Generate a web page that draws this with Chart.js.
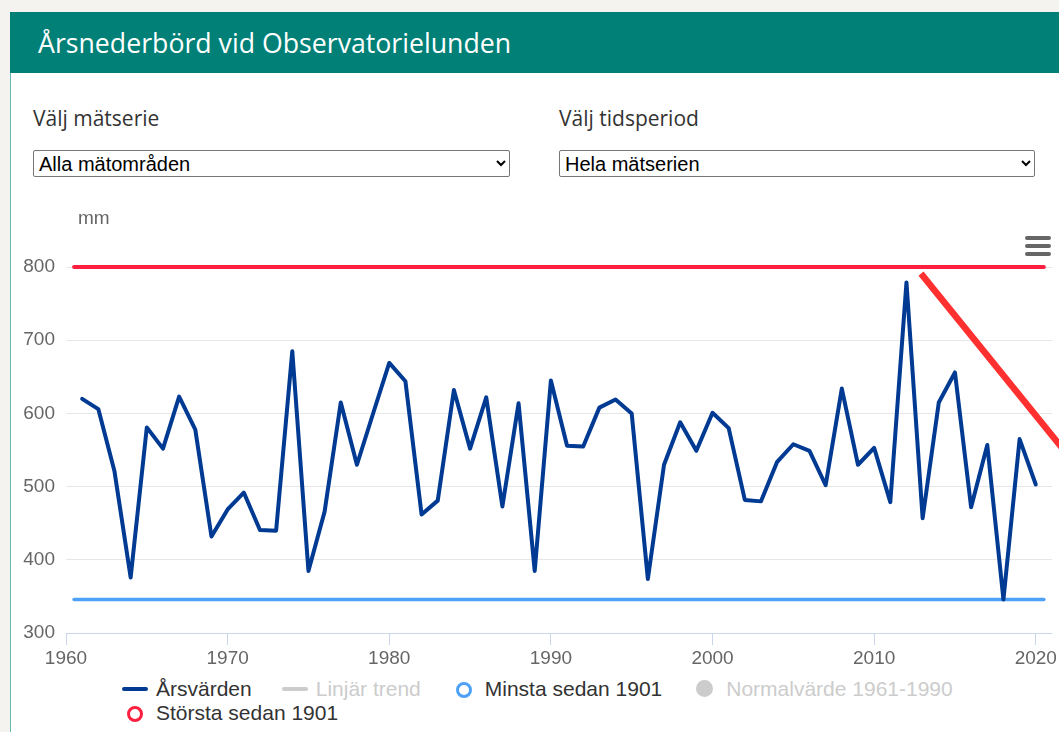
<!DOCTYPE html>
<html lang="sv">
<head>
<meta charset="utf-8">
<title>Årsnederbörd vid Observatorielunden</title>
<script src="https://cdn.jsdelivr.net/npm/chart.js@4.4.1/dist/chart.umd.min.js"></script>
<style>
  html, body { margin: 0; padding: 0; background: #f5f3ef; }
  body { width: 1059px; height: 732px; overflow: hidden; position: relative; font-family: "Liberation Sans", Arial, sans-serif; }
  .card { position: absolute; left: 10px; top: 73px; width: 1048px; height: 659px; background: #fff; border-left: 1px solid #66b8b0; }
  .head { position: absolute; left: 10px; top: 12px; width: 1049px; height: 61px; background: #008077; }
  .head h1 { margin: 0; padding-left: 28px; font: 400 26.7px "Open Sans", sans-serif; line-height: 61px; color: #fff; }
  .lbl { position: absolute; top: 104px; font: 400 21px "Open Sans", sans-serif; color: #333; }
  select { position: absolute; top: 150px; height: 27px; font: 20px "Liberation Sans", Arial, sans-serif; color: #000; background: #fff; border: 1px solid #767676; border-radius: 2px; padding: 0 1px; }
  #wrap { position: absolute; left: 12px; top: 195px; width: 1047px; height: 479px; }
  .menu { position: absolute; left: 1025px; top: 236px; width: 26px; }
  .menu span { display: block; height: 4px; border-radius: 2px; background: #666; margin-bottom: 4px; }
  #legend { position: absolute; left: 122px; top: 677px; width: 870px; display: flex; flex-wrap: wrap; font-size: 21px; color: #333; }
  .item { display: flex; align-items: center; height: 24px; margin-right: 30px; white-space: nowrap; }
  .item.off { color: #ccc; }
  .sym { width: 26px; height: 24px; margin-right: 8px; position: relative; }
  .sym i { position: absolute; }
</style>
</head>
<body>
<div class="head"><h1>Årsnederbörd vid Observatorielunden</h1></div>
<div class="card"></div>
<div class="lbl" style="left:33px">Välj mätserie</div>
<div class="lbl" style="left:559px">Välj tidsperiod</div>
<select style="left:33px; width:477px"><option>Alla mätområden</option></select>
<select style="left:559px; width:476px"><option>Hela mätserien</option></select>
<div id="wrap"><canvas id="chart"></canvas></div>
<div class="menu"><span></span><span></span><span></span></div>
<div id="legend"></div>
<script>
// data
const years = [1961, 1962, 1963, 1964, 1965, 1966, 1967, 1968, 1969, 1970,
  1971, 1972, 1973, 1974, 1975, 1976, 1977, 1978, 1979, 1980,
  1981, 1982, 1983, 1984, 1985, 1986, 1987, 1988, 1989, 1990,
  1991, 1992, 1993, 1994, 1995, 1996, 1997, 1998, 1999, 2000,
  2001, 2002, 2003, 2004, 2005, 2006, 2007, 2008, 2009, 2010,
  2011, 2012, 2013, 2014, 2015, 2016, 2017, 2018, 2019, 2020];
const arsvarden = [620, 606, 521, 376, 581, 552, 623, 578, 432, 469,
  492, 441, 440, 685, 385, 466, 615, 530, 600, 669,
  644, 462, 481, 632, 552, 622, 473, 614, 385, 645,
  556, 555, 608, 619, 600, 374, 530, 588, 549, 601,
  580, 482, 480, 534, 558, 549, 502, 634, 530, 553,
  479, 779, 457, 615, 656, 472, 557, 346, 565, 503];
const refYears = [1960.5, 2020.5];
const minsta = [346, 346];
const storsta = [800, 800];
// red pointer line drawn over the chart
const pilX = [2012.9, 2022.4];
const pilY = [791, 532];

const xTicks = [1960, 1970, 1980, 1990, 2000, 2010, 2020];
const yTicks = [300, 400, 500, 600, 700, 800];
const enhet = 'mm';

const pts = (xs, ys) => xs.map((x, i) => ({ x: x, y: ys[i] }));

Chart.defaults.font.family = '"Liberation Sans", Arial, sans-serif';
Chart.defaults.color = '#666';

const enhetPlugin = {
  id: 'enhet',
  afterDraw(chart) {
    const ctx = chart.ctx;
    ctx.save();
    ctx.font = '19px "Liberation Sans", Arial, sans-serif';
    ctx.fillStyle = '#666';
    ctx.textBaseline = 'middle';
    ctx.fillText(enhet, chart.chartArea.left + 12, chart.chartArea.top - 48);
    ctx.restore();
  }
};

const chart = new Chart(document.getElementById('chart'), {
  type: 'line',
  data: {
    datasets: [{
      label: 'Årsvärden',
      data: pts(years, arsvarden),
      borderColor: '#003a92',
      borderWidth: 4,
      borderJoinStyle: 'round',
      borderCapStyle: 'round',
      order: 1,
      symbol: 'line'
    }, {
      label: 'Linjär trend',
      data: [],
      borderColor: '#ccc',
      hidden: true,
      order: 5,
      symbol: 'line'
    }, {
      label: 'Minsta sedan 1901',
      data: pts(refYears, minsta),
      borderColor: '#4da1f7',
      borderWidth: 3.5,
      borderCapStyle: 'round',
      clip: false,
      order: 3,
      symbol: 'ring'
    }, {
      label: 'Normalvärde 1961-1990',
      data: [],
      borderColor: '#ccc',
      hidden: true,
      order: 6,
      symbol: 'dot'
    }, {
      label: 'Största sedan 1901',
      data: pts(refYears, storsta),
      borderColor: '#fd1f3f',
      borderWidth: 4,
      borderCapStyle: 'round',
      clip: false,
      order: 2,
      symbol: 'ring'
    }, {
      label: '',
      data: pts(pilX, pilY),
      borderColor: '#ff3030',
      borderWidth: 6.5,
      clip: false,
      order: 0
    }]
  },
  options: {
    responsive: true,
    maintainAspectRatio: false,
    animation: false,
    elements: { point: { radius: 0, hoverRadius: 0 }, line: { tension: 0 } },
    layout: { padding: { top: 72, right: 6, bottom: 2, left: 0 } },
    plugins: { legend: { display: false }, tooltip: { enabled: false } },
    scales: {
      x: {
        type: 'linear',
        min: 1960,
        max: 2021,
        afterBuildTicks: s => { s.ticks = xTicks.map(v => ({ value: v })); },
        border: { color: '#ccd6eb', width: 1 },
        grid: { drawOnChartArea: false, color: '#ccd6eb', tickLength: 12 },
        ticks: { color: '#666', font: { size: 19 }, padding: 2, maxRotation: 0, callback: v => String(v) }
      },
      y: {
        min: 300,
        max: 800,
        afterBuildTicks: s => { s.ticks = yTicks.map(v => ({ value: v })); },
        afterFit: s => { s.width = 54; },
        border: { display: false },
        grid: { color: '#e6e6e6', drawTicks: false },
        ticks: { color: '#666', font: { size: 19 }, padding: 11 }
      }
    }
  },
  plugins: [enhetPlugin]
});

// legend like the original, left aligned rows
const legend = document.getElementById('legend');
chart.data.datasets.forEach(ds => {
  if (!ds.symbol) return;
  const item = document.createElement('div');
  item.className = 'item' + (ds.hidden ? ' off' : '');
  const sym = document.createElement('div');
  sym.className = 'sym';
  const i = document.createElement('i');
  if (ds.symbol === 'line') {
    i.style.cssText = 'left:0;top:10px;width:26px;height:4px;border-radius:2px;background:' + ds.borderColor;
  } else if (ds.symbol === 'ring') {
    i.style.cssText = 'left:5px;top:5px;width:10px;height:10px;border-radius:50%;border:3px solid ' + ds.borderColor;
  } else {
    i.style.cssText = 'left:4px;top:3px;width:17px;height:17px;border-radius:50%;background:' + ds.borderColor;
  }
  sym.appendChild(i);
  item.appendChild(sym);
  item.appendChild(document.createTextNode(ds.label));
  legend.appendChild(item);
});
</script>
</body>
</html>
